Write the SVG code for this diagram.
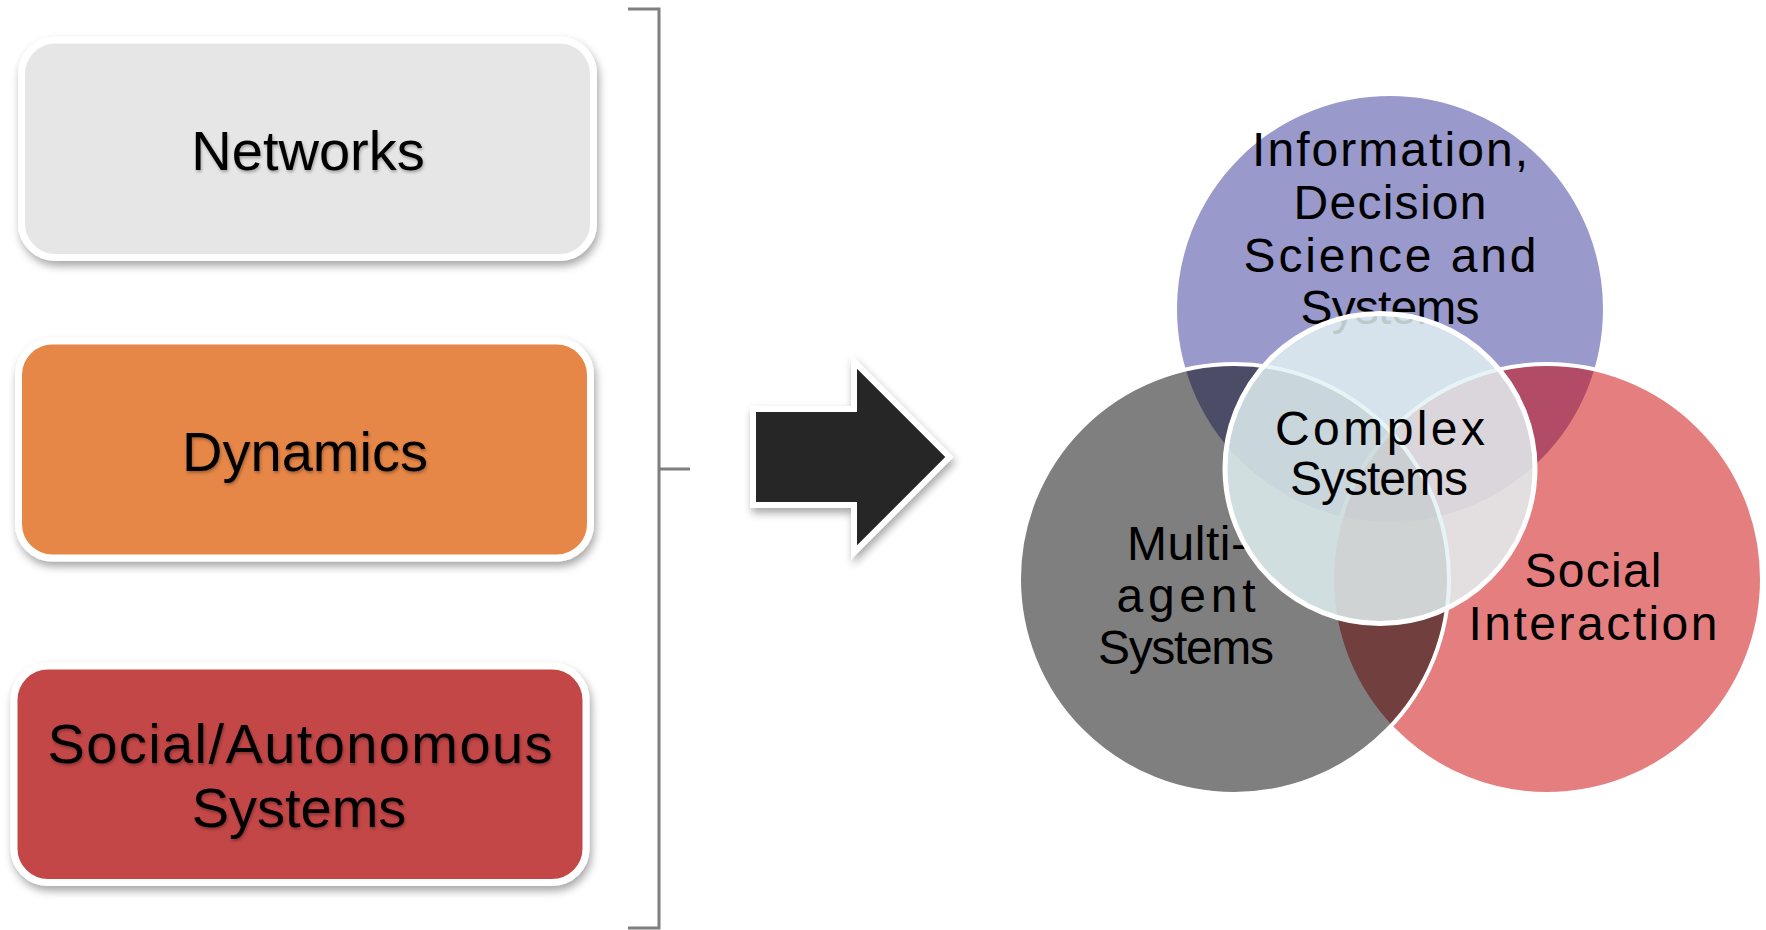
<svg xmlns="http://www.w3.org/2000/svg" width="1766" height="930" viewBox="0 0 1766 930">
<defs>
<style>
.box{stroke:#ffffff;stroke-width:7}
.lbl{font-family:"Liberation Sans",Arial,sans-serif;fill:#000;text-anchor:middle}
.bl{font-size:56px}
.vl{font-size:48px}
.venn{stroke:#ffffff;stroke-width:4}
.brk{fill:none;stroke:#7f7f7f;stroke-width:3}
</style>
<filter id="sh" x="-10%" y="-10%" width="125%" height="130%">
<feDropShadow dx="2" dy="5" stdDeviation="4" flood-color="#000" flood-opacity="0.35"/>
</filter>
<filter id="tsh" x="-10%" y="-20%" width="120%" height="150%">
<feDropShadow dx="1" dy="2" stdDeviation="1.5" flood-color="#000" flood-opacity="0.3"/>
</filter>
</defs>
<rect width="1766" height="930" fill="#ffffff"/>

<g id="connectors">
<path class="brk" d="M628,9 H659 V928 H628 M659,469 H690"/>
</g>

<g id="node-networks">
<rect class="box" x="21.5" y="40" width="572" height="217.5" rx="34" fill="#e6e6e6" filter="url(#sh)"/>
<text class="lbl bl" x="308" y="170" filter="url(#tsh)">Networks</text>
</g>

<g id="node-dynamics">
<rect class="box" x="18.5" y="341" width="572" height="217" rx="34" fill="#e68646" filter="url(#sh)"/>
<text class="lbl bl" x="305" y="471" filter="url(#tsh)">Dynamics</text>
</g>

<g id="node-social-autonomous">
<rect class="box" x="14" y="666" width="572" height="216.5" rx="34" fill="#c44646" filter="url(#sh)"/>
<text class="lbl bl" x="300" y="763" textLength="505" filter="url(#tsh)">Social/Autonomous</text>
<text class="lbl bl" x="299" y="827" filter="url(#tsh)">Systems</text>
</g>

<g id="arrow">
<polygon points="756,412 857,412 857,369 945,457 857,545 857,502 756,502" fill="#262626" stroke="#ffffff" stroke-width="12" stroke-linejoin="miter" paint-order="stroke" filter="url(#sh)"/>
<polygon points="756,412 857,412 857,369 945,457 857,545 857,502 756,502" fill="#262626"/>
</g>

<g id="venn">
<g id="node-information">
<circle class="venn" cx="1390" cy="309" r="215" fill="#333399" fill-opacity="0.5"/>
</g>
<g id="node-social-interaction">
<circle class="venn" cx="1547" cy="579" r="215" fill="#cc0000" fill-opacity="0.5"/>
</g>
<g id="node-multi-agent">
<circle class="venn" cx="1234" cy="579" r="215" fill="#000000" fill-opacity="0.5"/>
</g>
<g id="labels-outer">
<text class="lbl vl" x="1390" y="166" textLength="276">Information,</text>
<text class="lbl vl" x="1390" y="219" textLength="193">Decision</text>
<text class="lbl vl" x="1390" y="272" textLength="293">Science and</text>
<text class="lbl vl" x="1390" y="324" textLength="179">Systems</text>
<text class="lbl vl" x="1187" y="560" textLength="120">Multi-</text>
<text class="lbl vl" x="1186" y="612" textLength="139">agent</text>
<text class="lbl vl" x="1186" y="664" textLength="176">Systems</text>
<text class="lbl vl" x="1593" y="587" textLength="137">Social</text>
<text class="lbl vl" x="1593" y="640" textLength="249">Interaction</text>
</g>
<g id="node-complex-systems">
<circle cx="1380" cy="468.5" r="155" fill="#e2f2f3" fill-opacity="0.83" stroke="#ffffff" stroke-width="5"/>
<text class="lbl vl" x="1380" y="445" textLength="210">Complex</text>
<text class="lbl vl" x="1379" y="495" textLength="178">Systems</text>
</g>
</g>
</svg>
